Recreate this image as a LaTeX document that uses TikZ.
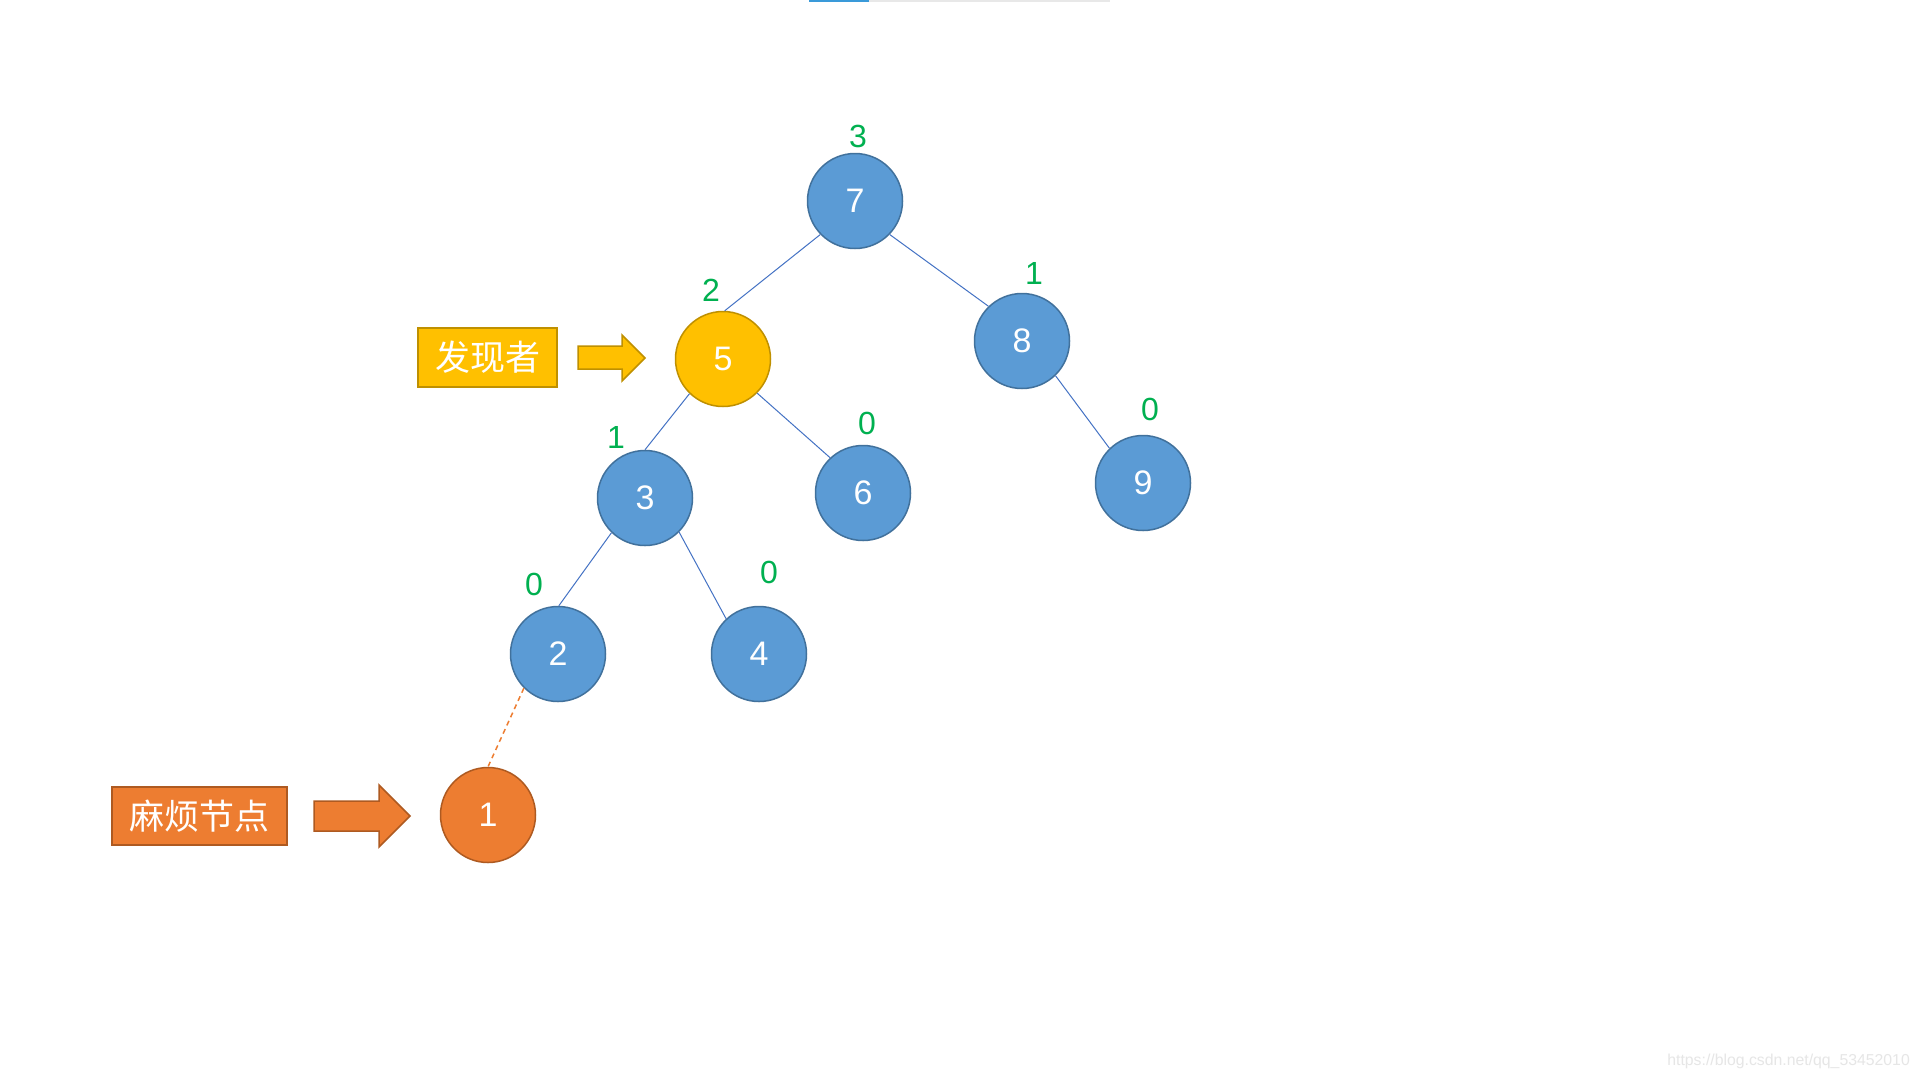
\documentclass[tikz,border=0pt]{standalone}
\usepackage{fontspec}
\setmainfont{Noto Sans CJK SC}
\newfontfamily\wmfont{Liberation Sans}
\newfontfamily\digfont{Liberation Sans}
\begin{document}
\begin{tikzpicture}[x=1pt,y=-1pt,
  tnode/.style={circle,minimum size=95pt,inner sep=0pt,line width=1.5pt,text=white,font=\digfont\fontsize{34}{34}\selectfont},
  bnode/.style={tnode,fill=nblue,draw=nblueb},
  ynode/.style={tnode,fill=nyel,draw=nyelb},
  onode/.style={tnode,fill=norg,draw=norgb},
  hlab/.style={text=hgreen,font=\digfont\fontsize{32}{32}\selectfont,inner sep=0pt},
  edge/.style={draw=eblue,line width=1pt},
  tagbox/.style={rectangle,line width=1.8pt,text=white,inner sep=0pt,font=\fontsize{35}{35}\selectfont},
  blockarrow/.style={line width=1.5pt,line join=miter}
]
\definecolor{nblue}{HTML}{5B9BD5}
\definecolor{nblueb}{HTML}{41719C}
\definecolor{nyel}{HTML}{FFC000}
\definecolor{nyelb}{HTML}{BF9000}
\definecolor{norg}{HTML}{ED7D31}
\definecolor{norgb}{HTML}{AE5A21}
\definecolor{hgreen}{HTML}{00B050}
\definecolor{eblue}{HTML}{4472C4}
\definecolor{barblue}{HTML}{3A9AD9}
\definecolor{bargray}{HTML}{E8E8E8}
\definecolor{wmgray}{HTML}{E6E6E6}
\useasboundingbox[fill=white] (0,0) rectangle (1919,1080);
% top bar
\fill[bargray] (869,0) rectangle (1110,1.6);
\fill[barblue] (809,0) rectangle (869,1.8);
% nodes
\node[bnode] (n7) at (855,201) {7};
\node[ynode] (n5) at (723,359) {5};
\node[bnode] (n8) at (1022,341) {8};
\node[bnode] (n3) at (645,498) {3};
\node[bnode] (n6) at (863,493) {6};
\node[bnode] (n9) at (1143,483) {9};
\node[bnode] (n2) at (558,654) {2};
\node[bnode] (n4) at (759,654) {4};
\node[onode] (n1) at (488,815) {1};
% edges
\draw[edge] (n7.224) -- (n5.88);
\draw[edge] (n7.316) -- (n8.134);
\draw[edge] (n5.226) -- (n3.90);
\draw[edge] (n5.315) -- (n6.133);
\draw[edge] (n8.314) -- (n9.134);
\draw[edge] (n3.226) -- (n2.89);
\draw[edge] (n3.315) -- (n4.133);
\draw[draw=norg,line width=1.5pt,dash pattern=on 5pt off 4pt] (n2.225) -- (n1.90);
% heights
\node[hlab] (h7) at (858,136) {3};
\node[hlab] (h5) at (711,290) {2};
\node[hlab] (h8) at (1034,273) {1};
\node[hlab] (h3) at (616,437) {1};
\node[hlab] (h6) at (867,423) {0};
\node[hlab] (h9) at (1150,409) {0};
\node[hlab] (h2) at (534,584) {0};
\node[hlab] (h4) at (769,572) {0};
% tags
\node[tagbox,fill=nyel,draw=nyelb,minimum width=139pt,minimum height=59pt] (t5) at (487.5,357.5) {发现者};
\node[tagbox,fill=norg,draw=norgb,minimum width=175pt,minimum height=58pt] (t1) at (199.5,816) {麻烦节点};
% block arrows
\draw[blockarrow,fill=nyel,draw=nyelb] (578,346) -- (622,346) -- (622,335) -- (645,358) -- (622,381) -- (622,369) -- (578,369) -- cycle;
\draw[blockarrow,fill=norg,draw=norgb] (314,801) -- (379,801) -- (379,785) -- (410,816) -- (379,847) -- (379,831) -- (314,831) -- cycle;
% watermark
\node[text=wmgray,font=\wmfont\fontsize{15.8}{16}\selectfont,anchor=east,inner sep=0pt] (wm) at (1910,1061) {https://blog.csdn.net/qq\_53452010};
\end{tikzpicture}
\end{document}
